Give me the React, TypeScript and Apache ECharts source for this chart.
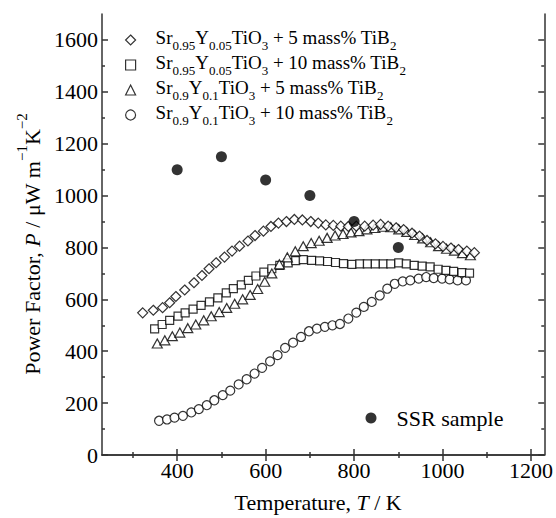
import React, { useEffect, useRef } from "react";
import * as echarts from "echarts";

// ---- data ----
const diamondT = [322, 346, 367, 383, 397, 417, 438, 456, 472, 488, 507, 524, 541, 560, 576, 595, 612, 629, 647, 665, 683, 702, 719, 736, 753, 770, 787, 805, 824, 843, 860, 877, 895, 912, 931, 948, 965, 984, 1001, 1019, 1036, 1055, 1072];
const diamondP = [548, 558, 568, 587, 611, 636, 664, 692, 718, 741, 763, 786, 805, 825, 846, 863, 881, 894, 900, 908, 906, 900, 894, 887, 885, 882, 881, 882, 882, 886, 889, 882, 876, 869, 855, 844, 827, 814, 804, 798, 792, 786, 780];

const squareT = [349, 366, 383, 402, 418, 436, 454, 473, 492, 511, 527, 545, 561, 578, 596, 614, 632, 651, 668, 685, 704, 722, 740, 758, 776, 795, 813, 830, 848, 866, 883, 901, 918, 936, 954, 972, 990, 1008, 1025, 1044, 1061];
const squareP = [486, 503, 519, 535, 548, 562, 577, 590, 606, 625, 641, 656, 673, 690, 705, 718, 731, 741, 749, 753, 750, 748, 746, 742, 738, 735, 737, 737, 737, 737, 737, 741, 737, 731, 728, 725, 716, 712, 708, 703, 701];

const triangleT = [355, 372, 389, 406, 424, 442, 460, 477, 495, 512, 530, 548, 565, 582, 598, 614, 631, 649, 667, 685, 703, 721, 739, 757, 775, 793, 811, 829, 847, 865, 883, 901, 919, 937, 955, 973, 991, 1009, 1027, 1045, 1063];
const triangleP = [430, 442, 458, 472, 489, 503, 519, 535, 551, 567, 583, 600, 617, 640, 668, 700, 735, 762, 785, 805, 817, 826, 837, 846, 852, 858, 863, 870, 875, 880, 878, 870, 860, 848, 835, 820, 805, 795, 788, 778, 770];

const circleT = [359, 377, 394, 413, 432, 449, 467, 484, 503, 520, 539, 557, 575, 592, 610, 627, 644, 662, 680, 698, 716, 734, 751, 768, 787, 805, 822, 840, 858, 875, 892, 910, 927, 946, 963, 980, 999, 1016, 1034, 1053];
const circleP = [132, 137, 144, 151, 164, 177, 192, 211, 231, 248, 272, 292, 314, 336, 361, 385, 413, 433, 455, 477, 487, 494, 500, 505, 526, 549, 571, 590, 615, 641, 660, 669, 673, 680, 686, 682, 680, 677, 673, 673];

const ssrT = [400, 500, 600, 700, 800, 900];
const ssrP = [1100, 1150, 1060, 1000, 900, 800];

const xMajorTicks = [400, 600, 800, 1000, 1200];
const xMinorTicks = [300, 500, 700, 900, 1100];
const yMajorTicks = [0, 200, 400, 600, 800, 1000, 1200, 1400, 1600];
const yMinorTicks = [100, 300, 500, 700, 900, 1100, 1300, 1500];

const nameDiamond = "Sr0.95Y0.05TiO3 + 5 mass% TiB2";
const nameSquare = "Sr0.95Y0.05TiO3 + 10 mass% TiB2";
const nameTriangle = "Sr0.9Y0.1TiO3 + 5 mass% TiB2";
const nameCircle = "Sr0.9Y0.1TiO3 + 10 mass% TiB2";
const nameSSR = "SSR sample";

const richLegend: Record<string, string> = {
  [nameDiamond]: "{n|Sr}{s|0.95}{n|Y}{s|0.05}{n|TiO}{s|3}{n| + 5 mass% TiB}{s|2}",
  [nameSquare]: "{n|Sr}{s|0.95}{n|Y}{s|0.05}{n|TiO}{s|3}{n| + 10 mass% TiB}{s|2}",
  [nameTriangle]: "{n|Sr}{s|0.9}{n|Y}{s|0.1}{n|TiO}{s|3}{n| + 5 mass% TiB}{s|2}",
  [nameCircle]: "{n|Sr}{s|0.9}{n|Y}{s|0.1}{n|TiO}{s|3}{n| + 10 mass% TiB}{s|2}",
  [nameSSR]: "{b|SSR sample}",
};

const FONT = "Liberation Serif, Times New Roman, serif";
const AX = "#333";

export default function App() {
  const ref = useRef<HTMLDivElement>(null);
  useEffect(() => {
    const chart = echarts.init(ref.current!, undefined, { renderer: "svg" });
    const zip = (t: number[], p: number[]) => t.map((v, i) => [v, p[i]]);
    const open = { color: "#fff", borderColor: "#000", borderWidth: 1.2 };
    const lineStyle = { color: AX, width: 1.5 };
    const plain = (v: number) => String(v);

    const xBase = { type: "value", min: 230, max: 1230, splitLine: { show: false }, gridIndex: 0 };
    const yBase = { type: "value", min: 0, max: 1700, splitLine: { show: false }, gridIndex: 0 };

    const option: any = {
      animation: false,
      backgroundColor: "#fff",
      textStyle: { fontFamily: FONT, color: "#000" },
      grid: { left: 102, right: 10, top: 14, bottom: 61, containLabel: false },
      xAxis: [
        {
          ...xBase,
          position: "bottom",
          axisLine: { show: true, lineStyle },
          axisTick: { show: true, inside: true, length: 6, customValues: xMajorTicks, lineStyle },
          axisLabel: {
            show: true, customValues: xMajorTicks, formatter: plain,
            fontFamily: FONT, fontSize: 22, color: "#000", margin: 4,
          },
          name: "{n|Temperature, }{i|T}{n| / K}",
          nameLocation: "middle",
          nameGap: 36,
          nameTextStyle: {
            fontFamily: FONT, fontSize: 22, color: "#000", padding: [0, 10, 0, 0],
            rich: {
              n: { fontFamily: FONT, fontSize: 22, color: "#000" },
              i: { fontFamily: FONT, fontSize: 22, fontStyle: "italic", color: "#000" },
            },
          },
        },
        {
          ...xBase,
          position: "bottom",
          axisLine: { show: false },
          axisTick: { show: true, inside: true, length: 3, customValues: xMinorTicks, lineStyle },
          axisLabel: { show: false },
        },
        {
          ...xBase,
          position: "top",
          axisLine: { show: true, lineStyle },
          axisTick: { show: true, inside: true, length: 6, customValues: xMajorTicks, lineStyle },
          axisLabel: { show: false },
        },
        {
          ...xBase,
          position: "top",
          axisLine: { show: false },
          axisTick: { show: true, inside: true, length: 3, customValues: xMinorTicks, lineStyle },
          axisLabel: { show: false },
        },
      ],
      yAxis: [
        {
          ...yBase,
          position: "left",
          axisLine: { show: true, lineStyle },
          axisTick: { show: true, inside: true, length: 6, customValues: yMajorTicks, lineStyle },
          axisLabel: {
            show: true, customValues: yMajorTicks, formatter: plain,
            fontFamily: FONT, fontSize: 22, color: "#000", margin: 4,
          },
          name: "{n|Power Factor, }{i|P}{n| / μW m}{sup|−1}{n|K}{sup|−2}",
          nameLocation: "middle",
          nameGap: 59,
          nameTextStyle: {
            fontFamily: FONT, fontSize: 22, color: "#000", padding: [0, 19, 0, 0],
            rich: {
              n: { fontFamily: FONT, fontSize: 22, color: "#000", lineHeight: 29, verticalAlign: "bottom" },
              i: { fontFamily: FONT, fontSize: 22, fontStyle: "italic", color: "#000", lineHeight: 29, verticalAlign: "bottom" },
              sup: { fontFamily: FONT, fontSize: 15, color: "#000", lineHeight: 15, verticalAlign: "top" },
            },
          },
        },
        {
          ...yBase,
          position: "left",
          axisLine: { show: false },
          axisTick: { show: true, inside: true, length: 3, customValues: yMinorTicks, lineStyle },
          axisLabel: { show: false },
        },
        {
          ...yBase,
          position: "right",
          axisLine: { show: true, lineStyle },
          axisTick: { show: true, inside: true, length: 6, customValues: yMajorTicks, lineStyle },
          axisLabel: { show: false },
        },
        {
          ...yBase,
          position: "right",
          axisLine: { show: false },
          axisTick: { show: true, inside: true, length: 3, customValues: yMinorTicks, lineStyle },
          axisLabel: { show: false },
        },
      ],
      legend: [
        {
          data: [nameDiamond, nameSquare, nameTriangle, nameCircle],
          orient: "vertical",
          left: 125,
          top: 28,
          padding: 0,
          itemGap: 1,
          itemWidth: 10,
          itemHeight: 10,
          selectedMode: false,
          itemStyle: { borderWidth: 1.2, borderColor: "#000" },
          formatter: (name: string) => richLegend[name] || name,
          textStyle: {
            color: "#000",
            fontFamily: FONT,
            fontSize: 19,
            padding: [0, 0, 0, 15],
            rich: {
              n: { fontFamily: FONT, fontSize: 19, color: "#000", lineHeight: 24, verticalAlign: "top" },
              s: { fontFamily: FONT, fontSize: 13, color: "#000", lineHeight: 13, verticalAlign: "bottom" },
            },
          },
        },
        {
          data: [nameSSR],
          orient: "vertical",
          left: 365.5,
          top: 407,
          padding: 0,
          itemWidth: 11,
          itemHeight: 11,
          selectedMode: false,
          formatter: (name: string) => richLegend[name] || name,
          textStyle: {
            color: "#000", fontFamily: FONT, fontSize: 22, padding: [0, 0, 0, 15],
            rich: { b: { fontFamily: FONT, fontSize: 22, color: "#000" } },
          },
        },
      ],
      series: [
        { name: nameCircle, type: "scatter", xAxisIndex: 0, yAxisIndex: 0, symbol: "circle", symbolSize: 9, itemStyle: open, data: zip(circleT, circleP) },
        { name: nameSquare, type: "scatter", xAxisIndex: 0, yAxisIndex: 0, symbol: "rect", symbolSize: 8, itemStyle: open, data: zip(squareT, squareP) },
        { name: nameTriangle, type: "scatter", xAxisIndex: 0, yAxisIndex: 0, symbol: "triangle", symbolSize: [10, 9], itemStyle: open, data: zip(triangleT, triangleP) },
        { name: nameDiamond, type: "scatter", xAxisIndex: 0, yAxisIndex: 0, symbol: "diamond", symbolSize: 10, itemStyle: open, data: zip(diamondT, diamondP) },
        { name: nameSSR, type: "scatter", xAxisIndex: 0, yAxisIndex: 0, symbol: "circle", symbolSize: 11, itemStyle: { color: "#000" }, data: zip(ssrT, ssrP) },
      ],
    };
    chart.setOption(option);
    return () => chart.dispose();
  }, []);
  return (
    <div
      ref={ref}
      style={{ position: "fixed", left: 0, top: 0, width: 556, height: 518, background: "#fff" }}
    />
  );
}
